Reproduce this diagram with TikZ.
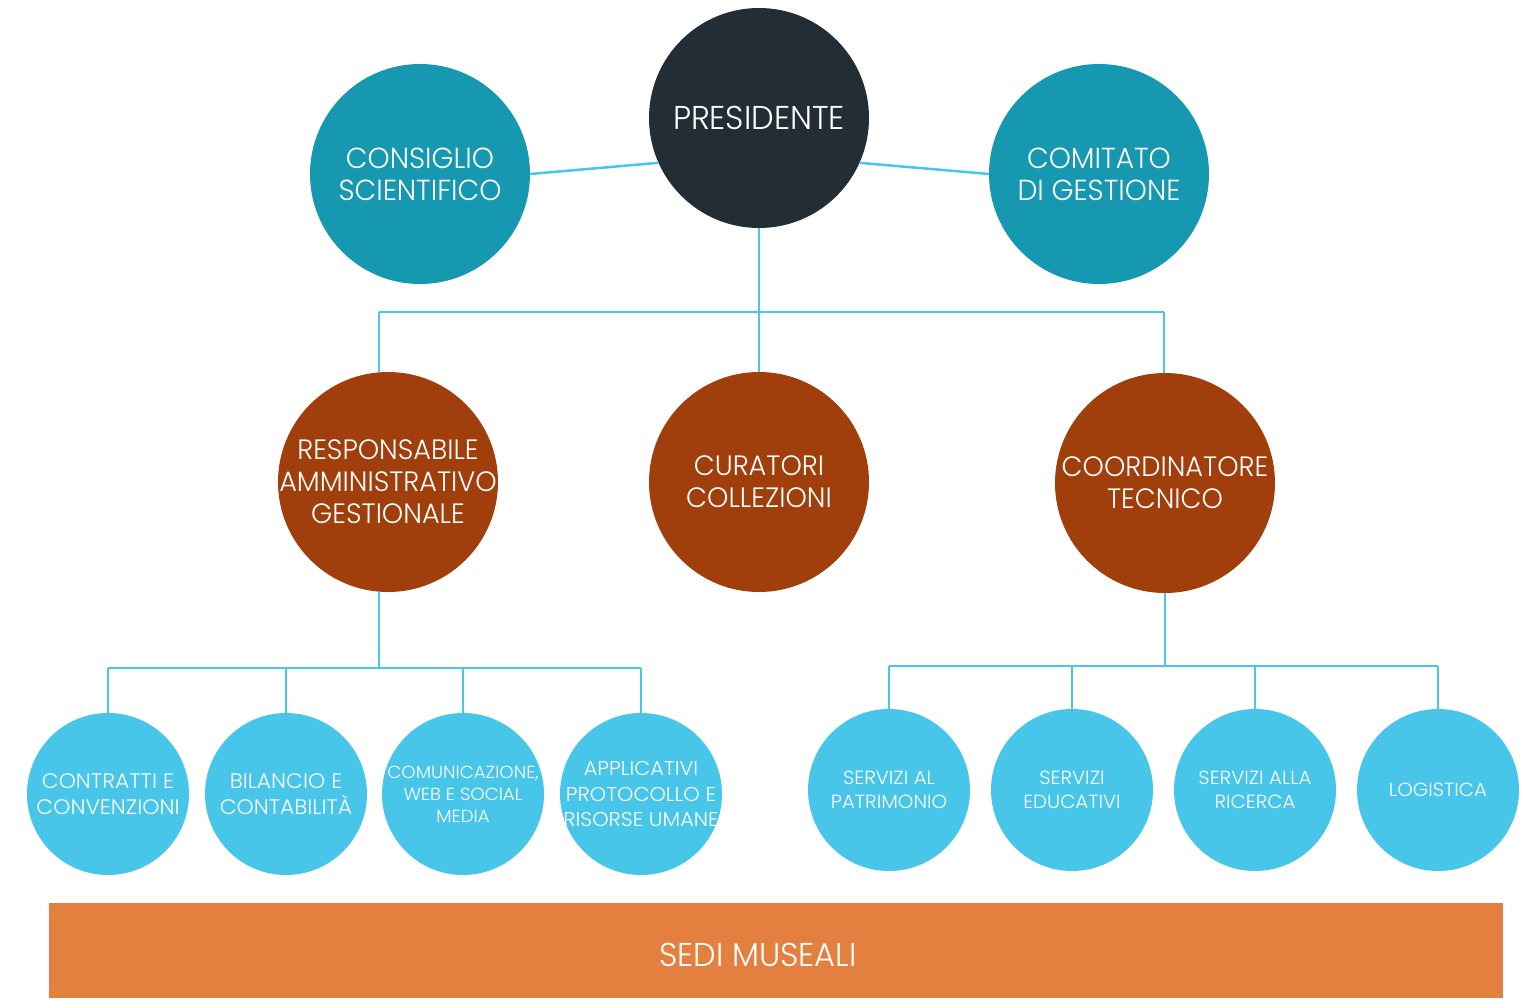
\documentclass[tikz,border=0pt]{standalone}
\usepackage{fontspec}
\setmainfont{Poppins Light}[FakeStretch=0.97]
\newfontfamily\widefont{Poppins Light}[FakeStretch=1.04]
\definecolor{darkc}{HTML}{232D35}
\definecolor{tealc}{HTML}{1798B1}
\definecolor{brownc}{HTML}{A03E0C}
\definecolor{lightc}{HTML}{48C6E9}
\definecolor{linec}{HTML}{4BC5EA}
\definecolor{orangec}{HTML}{E3803F}
\newcommand\fsz[2]{\fontsize{#1}{#2}\selectfont}
\newcommand\wfsz[2]{\widefont\fontsize{#1}{#2}\selectfont}
\tikzset{
  circ/.style={circle, inner sep=-40pt, align=center, text=white},
  bigc/.style={circ, minimum size=220pt},
  smallc/.style={circ, minimum size=162pt, fill=lightc},
  conn/.style={draw=linec, line width=2.5pt}
}
\begin{document}
\begin{tikzpicture}[x=1pt,y=-1pt]
\useasboundingbox (0,0) rectangle (1522,998);
% bottom bar
\fill[orangec] (49,903) rectangle (1503,998);
\node[text=white, font=\fsz{33}{38}] (sedi) at (758,955) {SEDI MUSEALI};
% top level
\node[bigc, fill=darkc, font=\fsz{33}{40}] (pres) at (759,118) {PRESIDENTE};
\node[bigc, fill=tealc, font=\fsz{29}{32}] (cons) at (420,174) {CONSIGLIO\\SCIENTIFICO};
\node[bigc, fill=tealc, font=\fsz{29}{32}] (comi) at (1099,174) {COMITATO\\DI GESTIONE};
% middle level
\node[bigc, fill=brownc, font=\fsz{28}{32}] (resp) at (388,482) {RESPONSABILE\\AMMINISTRATIVO\\GESTIONALE};
\node[bigc, fill=brownc, font=\fsz{28}{32}] (cur) at (759,482) {CURATORI\\COLLEZIONI};
\node[bigc, fill=brownc, font=\fsz{28}{32}] (coord) at (1165,483) {COORDINATORE\\TECNICO};
% bottom left
\node[smallc, font=\wfsz{21}{26}] (a1) at (108,794) {CONTRATTI E\\CONVENZIONI};
\node[smallc, font=\wfsz{21}{26}] (a2) at (286,794) {BILANCIO E\\CONTABILITÀ};
\node[smallc, font=\wfsz{17.5}{22}] (a3) at (463,794) {COMUNICAZIONE,\\WEB E SOCIAL\\MEDIA};
\node[smallc, font=\wfsz{20}{25.5}] (a4) at (641,794) {APPLICATIVI\\PROTOCOLLO E\\RISORSE UMANE};
% bottom right
\node[smallc, font=\wfsz{19}{24}] (s1) at (889,790) {SERVIZI AL\\PATRIMONIO};
\node[smallc, font=\wfsz{19}{24}] (s2) at (1072,790) {SERVIZI\\EDUCATIVI};
\node[smallc, font=\wfsz{19}{24}] (s3) at (1255,790) {SERVIZI ALLA\\RICERCA};
\node[smallc, font=\wfsz{19}{24}] (s4) at (1438,790) {LOGISTICA};
% connectors top
\draw[conn] (cons.east) -- (pres.204);
\draw[conn] (pres.336) -- (comi.west);
\coordinate (tL) at (379,312);
\coordinate (tR) at (1164,312);
\draw[conn] (pres.south) -- (pres.south |- tL);
\draw[conn] (tL) -- (tR);
\draw[conn] (tL) -- (tL |- resp.north);
\draw[conn] (pres.south |- tL) -- (cur.north);
\draw[conn] (tR) -- (tR |- coord.north);
% connectors bottom left
\coordinate (m0) at (379,668);
\draw[conn] (m0 |- resp.south) -- (m0);
\draw[conn] (a1.north |- m0) -- (a4.north |- m0);
\foreach \n in {a1,a2,a3,a4} \draw[conn] (\n.north |- m0) -- (\n.north);
% connectors bottom right
\coordinate (n0) at (1165,666);
\draw[conn] (coord.south) -- (n0);
\draw[conn] (s1.north |- n0) -- (s4.north |- n0);
\foreach \n in {s1,s2,s3,s4} \draw[conn] (\n.north |- n0) -- (\n.north);
\end{tikzpicture}
\end{document}
